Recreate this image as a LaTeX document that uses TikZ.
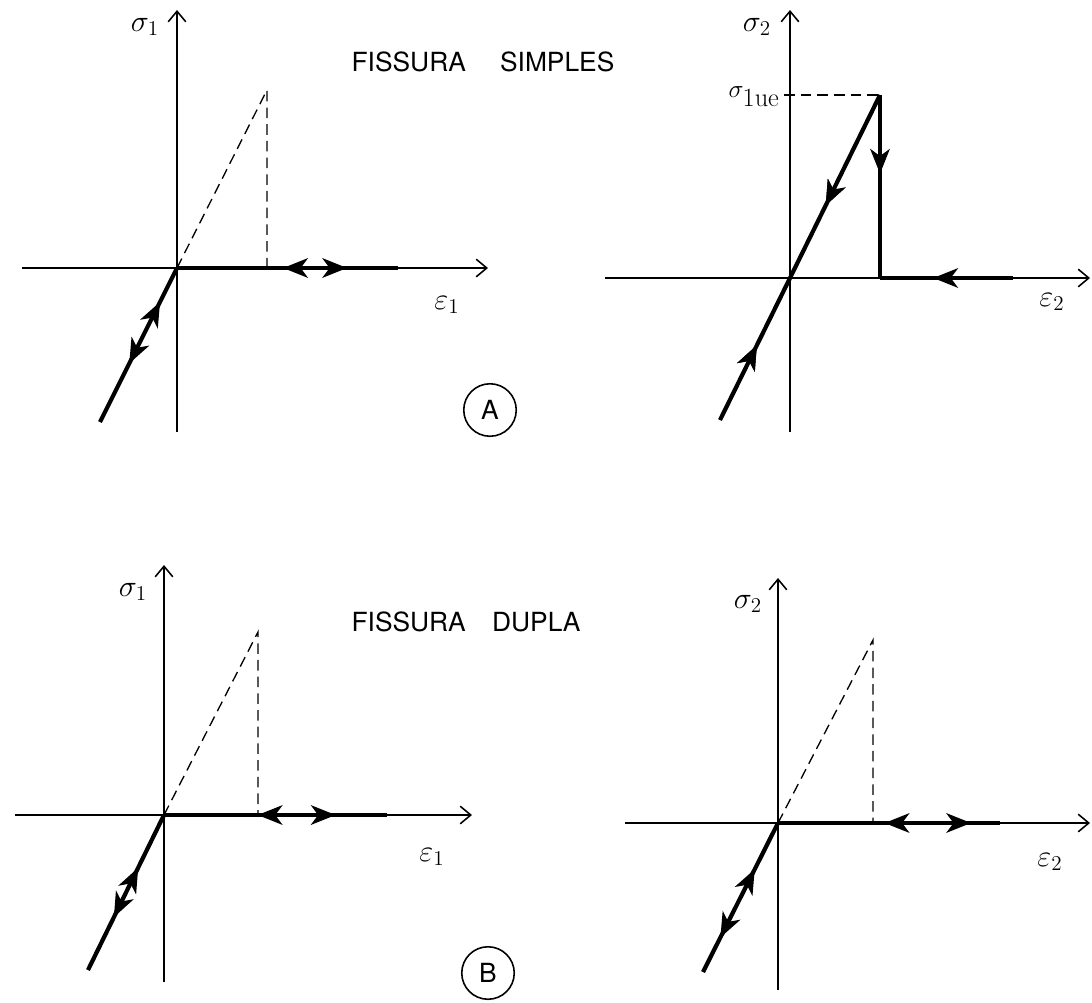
\documentclass[tikz,border=0pt]{standalone}
\usepackage{fontspec}
\newfontfamily\lettering{TeX Gyre Heros}
\usetikzlibrary{
    arrows.meta,
    decorations.markings
}
\tikzset{
    loadtip/.tip={Stealth[length=14pt, width=11pt, inset=4pt]},
    axis/.style={line width=0.9pt, -{Straight Barb[length=6pt, width=10pt]}},
    loadpath/.style={line width=2.4pt, line join=miter},
    guide/.style={line width=0.75pt, dash pattern=on 6pt off 3.5pt},
    twoway/.style 2 args={postaction={decorate}, decoration={markings,
        mark=at position #1 with {\arrowreversed{loadtip}},
        mark=at position #2 with {\arrow{loadtip}}}},
    oneway/.style={postaction={decorate}, decoration={markings,
        mark=at position #1 with {\arrow{loadtip}}}},
    backway/.style={postaction={decorate}, decoration={markings,
        mark=at position #1 with {\arrowreversed{loadtip}}}},
    axlabel/.style={font=\fontsize{18}{20}\selectfont},
    title/.style={font=\lettering\fontsize{15}{17}\selectfont},
    tag/.style={circle, draw, line width=0.9pt, minimum size=1.05cm, inner sep=0pt,
        font=\lettering\fontsize{15}{17}\selectfont}
}

\begin{document}
\begin{tikzpicture}[x=0.02cm, y=-0.02cm]
    \useasboundingbox (0,0) rectangle (1092,1002);

    % A -- left
    \coordinate (oA1) at (177,268);
    \coordinate (pA1) at (267,90);
    \coordinate (fA1) at (267,268);
    \coordinate (eA1) at (398,268);
    \coordinate (dA1) at (100,422);
    \draw[axis] (177,432) -- (177,10);
    \draw[axis] (22,268) -- (488,268);
    \draw[guide] (oA1) -- (pA1) -- (fA1);
    \draw[loadpath, twoway={0.48}{0.77}] (oA1) -- (eA1);
    \draw[loadpath, twoway={0.22}{0.62}] (oA1) -- (dA1);
    \node[axlabel] (sA1) at (145,27) {$\sigma_1$};
    \node[axlabel] (eps A1) at (447,305) {$\varepsilon_1$};

    \node[title] (simples) at (483,62) {FISSURA\hspace{1.3em}SIMPLES};
    \node[tag] (tagA) at (490,410) {A};

    % A -- right
    \coordinate (oA2) at (790,278);
    \coordinate (pA2) at (880,95);
    \coordinate (vA2) at (880,278);
    \coordinate (eA2) at (1013,278);
    \coordinate (dA2) at (720,420);
    \draw[axis] (790,432) -- (790,10);
    \draw[axis] (605,278) -- (1090,278);
    \draw[guide] (784,95) -- (pA2);
    \draw[loadpath, oneway=0.34, backway=0.77] (pA2) -- (oA2) -- (dA2);
    \draw[loadpath, oneway=0.43] (pA2) -- (vA2);
    \draw[loadpath, backway=0.4] (vA2) -- (eA2);
    \node[font=\fontsize{15}{17}\selectfont, anchor=east] (sue) at (786,97)
        {$\sigma_{\textstyle\mathrm{1ue}}$};
    \node[axlabel] (sA2) at (757,27) {$\sigma_2$};
    \node[axlabel] (eps A2) at (1052,302) {$\varepsilon_2$};

    % B -- left
    \coordinate (oB1) at (164,815);
    \coordinate (pB1) at (258,632);
    \coordinate (fB1) at (258,815);
    \coordinate (eB1) at (387,815);
    \coordinate (dB1) at (88,970);
    \draw[axis] (164,982) -- (164,565);
    \draw[axis] (15,815) -- (472,815);
    \draw[guide] (oB1) -- (pB1) -- (fB1);
    \draw[loadpath, twoway={0.42}{0.77}] (oB1) -- (eB1);
    \draw[loadpath, twoway={0.34}{0.66}] (oB1) -- (dB1);
    \node[axlabel] (sB1) at (133,592) {$\sigma_1$};
    \node[axlabel] (eps B1) at (432,857) {$\varepsilon_1$};

    \node[title] (dupla) at (466,622) {FISSURA\hspace{1em}DUPLA};
    \node[tag] (tagB) at (488,973) {B};

    % B -- right
    \coordinate (oB2) at (778,823);
    \coordinate (pB2) at (873,640);
    \coordinate (fB2) at (873,823);
    \coordinate (eB2) at (1000,823);
    \coordinate (dB2) at (703,972);
    \draw[axis] (778,990) -- (778,578);
    \draw[axis] (625,823) -- (1090,823);
    \draw[guide] (oB2) -- (pB2) -- (fB2);
    \draw[loadpath, twoway={0.48}{0.87}] (oB2) -- (eB2);
    \draw[loadpath, twoway={0.31}{0.77}] (oB2) -- (dB2);
    \node[axlabel] (sB2) at (748,604) {$\sigma_2$};
    \node[axlabel] (eps B2) at (1050,862) {$\varepsilon_2$};
\end{tikzpicture}
\end{document}
